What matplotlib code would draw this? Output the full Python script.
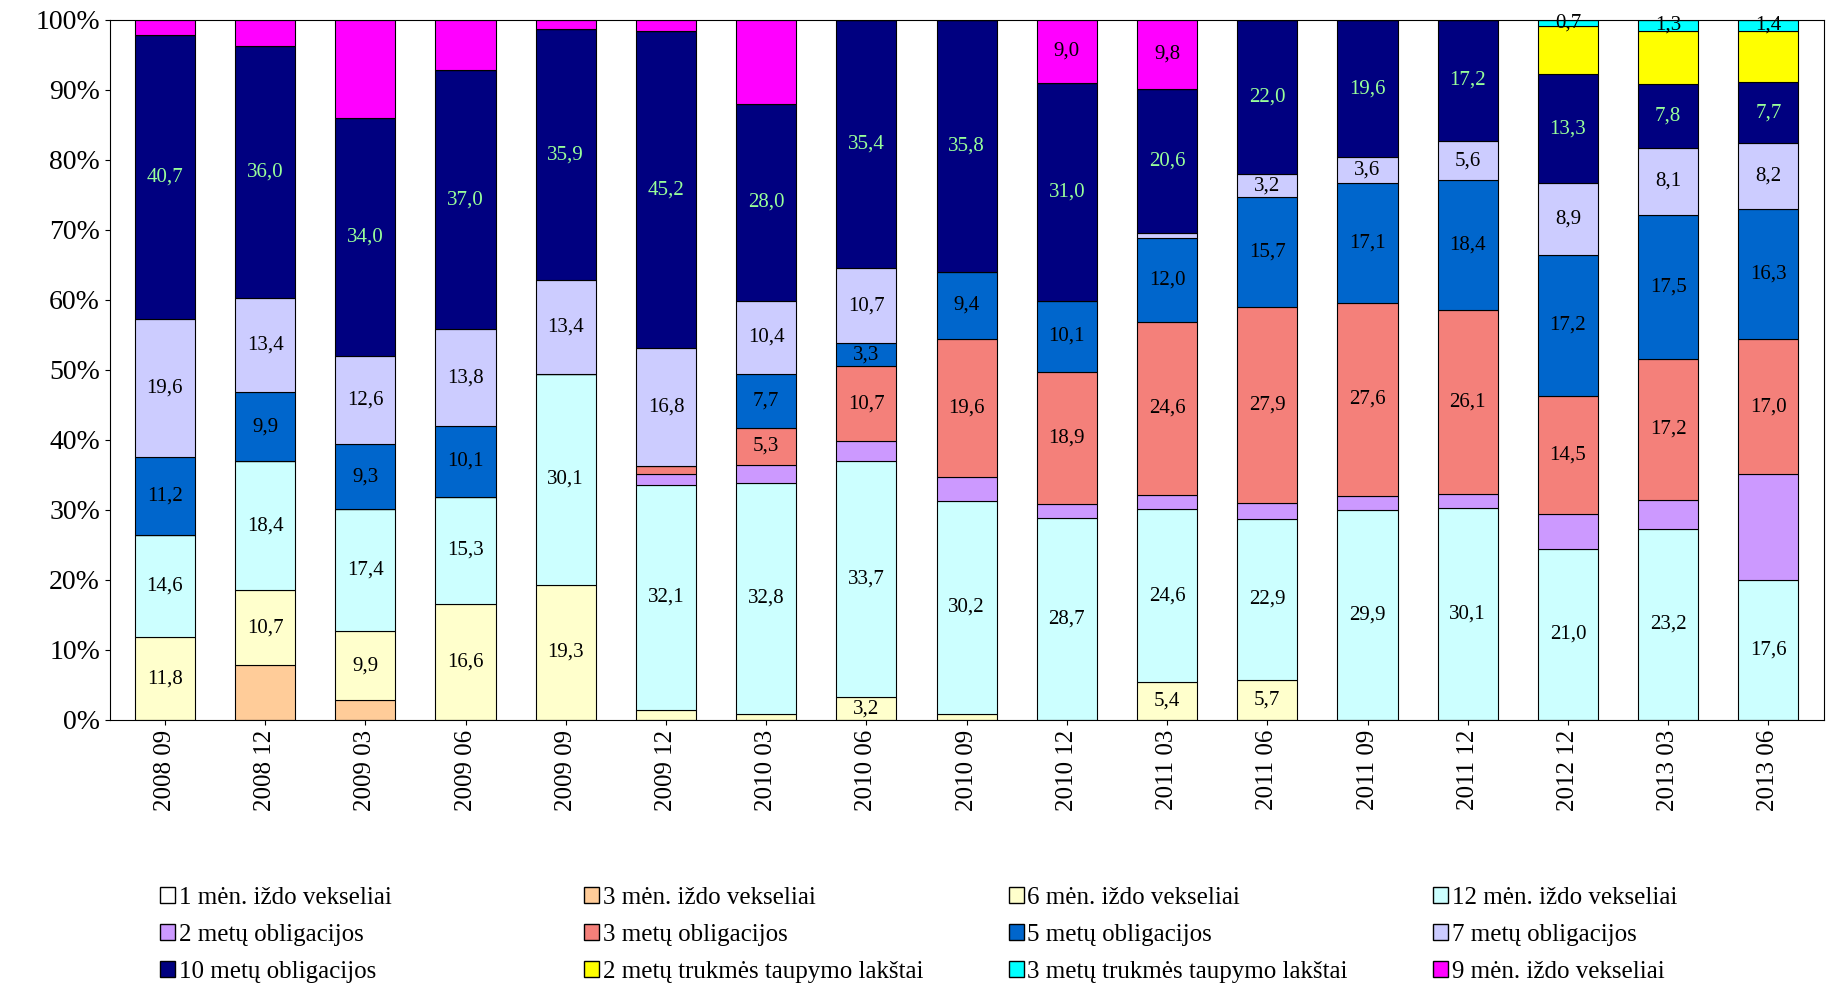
import matplotlib
matplotlib.use("Agg")
import matplotlib.pyplot as plt
import numpy as np
from matplotlib.patches import Patch
from matplotlib.ticker import FuncFormatter

plt.rcParams['font.family'] = ['Liberation Serif', 'DejaVu Serif']

periods = ["2008 09","2008 12","2009 03","2009 06","2009 09","2009 12","2010 03","2010 06","2010 09",
           "2010 12","2011 03","2011 06","2011 09","2011 12","2012 12","2013 03","2013 06"]
series_names = ["1 mėn. iždo vekseliai","3 mėn. iždo vekseliai","6 mėn. iždo vekseliai","12 mėn. iždo vekseliai",
                "2 metų obligacijos","3 metų obligacijos","5 metų obligacijos","7 metų obligacijos",
                "10 metų obligacijos","2 metų trukmės taupymo lakštai","3 metų trukmės taupymo lakštai","9 mėn. iždo vekseliai"]
m1   = [0]*17
m3   = [0, 7.8, 2.8, 0, 0, 0, 0, 0, 0, 0, 0, 0, 0, 0, 0, 0, 0]
m6   = [11.8, 10.7, 9.9, 16.6, 19.3, 1.4, 0.9, 3.2, 0.9, 0, 5.4, 5.7, 0, 0, 0, 0, 0]
m12  = [14.6, 18.4, 17.4, 15.3, 30.1, 32.1, 32.8, 33.7, 30.2, 28.7, 24.6, 22.9, 29.9, 30.1, 21.0, 23.2, 17.6]
y2   = [0, 0, 0, 0, 0, 1.5, 2.6, 2.8, 3.4, 2.0, 2.1, 2.2, 2.0, 2.0, 4.3, 3.5, 13.2]
y3   = [0, 0, 0, 0, 0, 1.2, 5.3, 10.7, 19.6, 18.9, 24.6, 27.9, 27.6, 26.1, 14.5, 17.2, 17.0]
y5   = [11.2, 9.9, 9.3, 10.1, 0, 0, 7.7, 3.3, 9.4, 10.1, 12.0, 15.7, 17.1, 18.4, 17.2, 17.5, 16.3]
y7   = [19.6, 13.4, 12.6, 13.8, 13.4, 16.8, 10.4, 10.7, 0, 0, 0.7, 3.2, 3.6, 5.6, 8.9, 8.1, 8.2]
y10  = [40.7, 36.0, 34.0, 37.0, 35.9, 45.2, 28.0, 35.4, 35.8, 31.0, 20.6, 22.0, 19.6, 17.2, 13.3, 7.8, 7.7]
t2   = [0]*14 + [6.0, 6.5, 6.4]
t3   = [0]*14 + [0.7, 1.3, 1.4]
m9   = [2.1, 3.7, 14.0, 7.2, 1.3, 1.6, 12.0, 0, 0, 9.0, 9.8, 0, 0, 0, 0, 0, 0]

data = [m1, m3, m6, m12, y2, y3, y5, y7, y10, t2, t3, m9]
colors = ["#FFFFFF","#FFCC99","#FFFFCC","#CCFFFF","#CC99FF","#F4807A","#0066CC","#CCCCFF",
          "#000080","#FFFF00","#00FFFF","#FF00FF"]
labeled = {2, 3, 5, 6, 7, 8, 10}
label_col = {8: "#99FF99"}

arr = np.array(data, dtype=float)
pct = arr / arr.sum(axis=0) * 100

fig = plt.figure(figsize=(18.29, 9.93), dpi=100)
ax = fig.add_axes([0.06, 0.275, 0.937, 0.705])
x = np.arange(len(periods))
bottom = np.zeros(len(periods))
for i in range(len(data)):
    ax.bar(x, pct[i], 0.6, bottom=bottom, color=colors[i], edgecolor="black", linewidth=0.8)
    for j in range(len(periods)):
        v = arr[i, j]
        show = (i in labeled and (v >= 3 or (i == 10 and v > 0))) or (i == 11 and 8.5 <= v <= 10)
        if show:
            ax.text(x[j], bottom[j] + pct[i, j] / 2, f"{v:.1f}".replace(".", ","),
                    ha="center", va="center", fontsize=15, color=label_col.get(i, "black"))
    bottom += pct[i]

ax.set_xlim(-0.55, len(periods) - 0.45)
ax.set_ylim(0, 100)
ax.set_yticks(np.arange(0, 101, 10))
ax.yaxis.set_major_formatter(FuncFormatter(lambda v, p: f"{int(v)}%"))
ax.set_xticks(x)
ax.set_xticklabels(periods, rotation=90, fontsize=18)
ax.tick_params(axis='y', labelsize=20)

handles = [Patch(facecolor=colors[i], edgecolor="black", label=series_names[i]) for i in range(12)]
col_x = [0.082, 0.314, 0.546, 0.778]
for c in range(4):
    idx = [c, c + 4, c + 8]
    fig.legend([handles[k] for k in idx], [series_names[k] for k in idx], ncol=1,
               loc="lower left", bbox_to_anchor=(col_x[c], 0.0), frameon=False, fontsize=18,
               handlelength=0.6, handleheight=0.6, handletextpad=0.15, labelspacing=0.6,
               borderaxespad=0.0)

fig.savefig("out.png", dpi=100)
